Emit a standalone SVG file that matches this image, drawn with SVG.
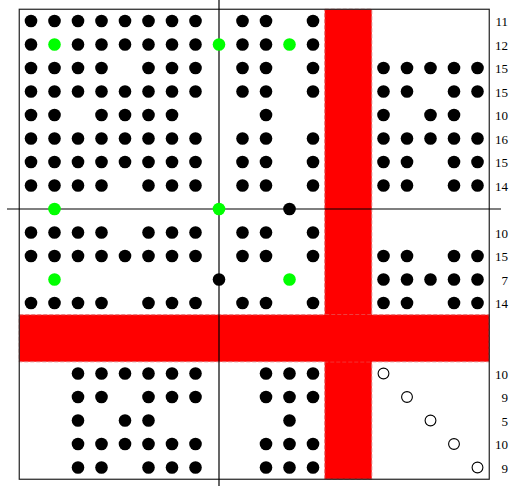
<svg xmlns="http://www.w3.org/2000/svg" xmlns:xlink="http://www.w3.org/1999/xlink" width="515" height="486" viewBox="0 0 515 486">
<style>
.band{fill:#ff0000;stroke:#e07070;stroke-width:1;stroke-dasharray:4 2}
.axis{stroke:#000;stroke-width:1.2;fill:none}
.frame{fill:none;stroke:#222;stroke-width:1.2}
.lbl{font-family:"Liberation Serif","Times New Roman",serif;font-size:13px;fill:#000;text-anchor:end}
</style>
<defs>
<circle id="b" r="6.3" fill="#000"/>
<circle id="g" r="6.3" fill="#00ff00"/>
<circle id="o" r="5.4" fill="#fff" stroke="#000" stroke-width="1.1"/>
</defs>
<rect width="515" height="486" fill="#fff"/>
<g id="bands">
<rect class="band" x="324.75" y="9.25" width="47" height="470"/>
<rect class="band" x="19.25" y="314.75" width="470" height="47"/>
<rect x="324.75" y="314.75" width="47" height="47" fill="#ff0000"/>
</g>
<rect id="frame" class="frame" x="19.25" y="9.25" width="470" height="470"/>
<g id="connectors">
<line class="axis" x1="219" y1="0" x2="219" y2="486"/>
<line class="axis" x1="7" y1="209" x2="501" y2="209"/>
</g>
<g id="row0">
<use href="#b" x="31" y="21"/><use href="#b" x="54.5" y="21"/><use href="#b" x="78" y="21"/><use href="#b" x="101.5" y="21"/><use href="#b" x="125" y="21"/><use href="#b" x="148.5" y="21"/><use href="#b" x="172" y="21"/><use href="#b" x="195.5" y="21"/><use href="#b" x="242.5" y="21"/><use href="#b" x="266" y="21"/><use href="#b" x="313" y="21"/>
</g>
<g id="row1">
<use href="#b" x="31" y="44.5"/><use href="#g" x="54.5" y="44.5"/><use href="#b" x="78" y="44.5"/><use href="#b" x="101.5" y="44.5"/><use href="#b" x="125" y="44.5"/><use href="#b" x="148.5" y="44.5"/><use href="#b" x="172" y="44.5"/><use href="#b" x="195.5" y="44.5"/><use href="#g" x="219" y="44.5"/><use href="#b" x="242.5" y="44.5"/><use href="#b" x="266" y="44.5"/><use href="#g" x="289.5" y="44.5"/><use href="#b" x="313" y="44.5"/>
</g>
<g id="row2">
<use href="#b" x="31" y="68"/><use href="#b" x="54.5" y="68"/><use href="#b" x="78" y="68"/><use href="#b" x="101.5" y="68"/><use href="#b" x="148.5" y="68"/><use href="#b" x="172" y="68"/><use href="#b" x="195.5" y="68"/><use href="#b" x="242.5" y="68"/><use href="#b" x="266" y="68"/><use href="#b" x="313" y="68"/><use href="#b" x="383.5" y="68"/><use href="#b" x="407" y="68"/><use href="#b" x="430.5" y="68"/><use href="#b" x="454" y="68"/><use href="#b" x="477.5" y="68"/>
</g>
<g id="row3">
<use href="#b" x="31" y="91.5"/><use href="#b" x="54.5" y="91.5"/><use href="#b" x="78" y="91.5"/><use href="#b" x="101.5" y="91.5"/><use href="#b" x="125" y="91.5"/><use href="#b" x="148.5" y="91.5"/><use href="#b" x="172" y="91.5"/><use href="#b" x="195.5" y="91.5"/><use href="#b" x="242.5" y="91.5"/><use href="#b" x="266" y="91.5"/><use href="#b" x="313" y="91.5"/><use href="#b" x="383.5" y="91.5"/><use href="#b" x="407" y="91.5"/><use href="#b" x="454" y="91.5"/><use href="#b" x="477.5" y="91.5"/>
</g>
<g id="row4">
<use href="#b" x="31" y="115"/><use href="#b" x="54.5" y="115"/><use href="#b" x="101.5" y="115"/><use href="#b" x="125" y="115"/><use href="#b" x="148.5" y="115"/><use href="#b" x="172" y="115"/><use href="#b" x="266" y="115"/><use href="#b" x="383.5" y="115"/><use href="#b" x="430.5" y="115"/><use href="#b" x="454" y="115"/>
</g>
<g id="row5">
<use href="#b" x="31" y="138.5"/><use href="#b" x="54.5" y="138.5"/><use href="#b" x="78" y="138.5"/><use href="#b" x="101.5" y="138.5"/><use href="#b" x="125" y="138.5"/><use href="#b" x="148.5" y="138.5"/><use href="#b" x="172" y="138.5"/><use href="#b" x="195.5" y="138.5"/><use href="#b" x="242.5" y="138.5"/><use href="#b" x="266" y="138.5"/><use href="#b" x="313" y="138.5"/><use href="#b" x="383.5" y="138.5"/><use href="#b" x="407" y="138.5"/><use href="#b" x="430.5" y="138.5"/><use href="#b" x="454" y="138.5"/><use href="#b" x="477.5" y="138.5"/>
</g>
<g id="row6">
<use href="#b" x="31" y="162"/><use href="#b" x="54.5" y="162"/><use href="#b" x="78" y="162"/><use href="#b" x="101.5" y="162"/><use href="#b" x="125" y="162"/><use href="#b" x="148.5" y="162"/><use href="#b" x="172" y="162"/><use href="#b" x="195.5" y="162"/><use href="#b" x="242.5" y="162"/><use href="#b" x="266" y="162"/><use href="#b" x="313" y="162"/><use href="#b" x="383.5" y="162"/><use href="#b" x="407" y="162"/><use href="#b" x="454" y="162"/><use href="#b" x="477.5" y="162"/>
</g>
<g id="row7">
<use href="#b" x="31" y="185.5"/><use href="#b" x="54.5" y="185.5"/><use href="#b" x="78" y="185.5"/><use href="#b" x="101.5" y="185.5"/><use href="#b" x="148.5" y="185.5"/><use href="#b" x="172" y="185.5"/><use href="#b" x="195.5" y="185.5"/><use href="#b" x="242.5" y="185.5"/><use href="#b" x="266" y="185.5"/><use href="#b" x="313" y="185.5"/><use href="#b" x="383.5" y="185.5"/><use href="#b" x="407" y="185.5"/><use href="#b" x="454" y="185.5"/><use href="#b" x="477.5" y="185.5"/>
</g>
<g id="row8">
<use href="#g" x="54.5" y="209"/><use href="#g" x="219" y="209"/><use href="#b" x="289.5" y="209"/>
</g>
<g id="row9">
<use href="#b" x="31" y="232.5"/><use href="#b" x="54.5" y="232.5"/><use href="#b" x="78" y="232.5"/><use href="#b" x="101.5" y="232.5"/><use href="#b" x="148.5" y="232.5"/><use href="#b" x="172" y="232.5"/><use href="#b" x="195.5" y="232.5"/><use href="#b" x="242.5" y="232.5"/><use href="#b" x="266" y="232.5"/><use href="#b" x="313" y="232.5"/>
</g>
<g id="row10">
<use href="#b" x="31" y="256"/><use href="#b" x="54.5" y="256"/><use href="#b" x="78" y="256"/><use href="#b" x="101.5" y="256"/><use href="#b" x="125" y="256"/><use href="#b" x="148.5" y="256"/><use href="#b" x="172" y="256"/><use href="#b" x="195.5" y="256"/><use href="#b" x="242.5" y="256"/><use href="#b" x="266" y="256"/><use href="#b" x="313" y="256"/><use href="#b" x="383.5" y="256"/><use href="#b" x="407" y="256"/><use href="#b" x="454" y="256"/><use href="#b" x="477.5" y="256"/>
</g>
<g id="row11">
<use href="#g" x="54.5" y="279.5"/><use href="#b" x="219" y="279.5"/><use href="#g" x="289.5" y="279.5"/><use href="#b" x="383.5" y="279.5"/><use href="#b" x="407" y="279.5"/><use href="#b" x="430.5" y="279.5"/><use href="#b" x="454" y="279.5"/><use href="#b" x="477.5" y="279.5"/>
</g>
<g id="row12">
<use href="#b" x="31" y="303"/><use href="#b" x="54.5" y="303"/><use href="#b" x="78" y="303"/><use href="#b" x="101.5" y="303"/><use href="#b" x="148.5" y="303"/><use href="#b" x="172" y="303"/><use href="#b" x="195.5" y="303"/><use href="#b" x="242.5" y="303"/><use href="#b" x="266" y="303"/><use href="#b" x="313" y="303"/><use href="#b" x="383.5" y="303"/><use href="#b" x="407" y="303"/><use href="#b" x="454" y="303"/><use href="#b" x="477.5" y="303"/>
</g>
<g id="row15">
<use href="#b" x="78" y="373.5"/><use href="#b" x="101.5" y="373.5"/><use href="#b" x="125" y="373.5"/><use href="#b" x="148.5" y="373.5"/><use href="#b" x="172" y="373.5"/><use href="#b" x="195.5" y="373.5"/><use href="#b" x="266" y="373.5"/><use href="#b" x="289.5" y="373.5"/><use href="#b" x="313" y="373.5"/><use href="#o" x="383.5" y="373.5"/>
</g>
<g id="row16">
<use href="#b" x="78" y="397"/><use href="#b" x="101.5" y="397"/><use href="#b" x="148.5" y="397"/><use href="#b" x="172" y="397"/><use href="#b" x="195.5" y="397"/><use href="#b" x="266" y="397"/><use href="#b" x="289.5" y="397"/><use href="#b" x="313" y="397"/><use href="#o" x="407" y="397"/>
</g>
<g id="row17">
<use href="#b" x="78" y="420.5"/><use href="#b" x="125" y="420.5"/><use href="#b" x="148.5" y="420.5"/><use href="#b" x="289.5" y="420.5"/><use href="#o" x="430.5" y="420.5"/>
</g>
<g id="row18">
<use href="#b" x="78" y="444"/><use href="#b" x="101.5" y="444"/><use href="#b" x="125" y="444"/><use href="#b" x="148.5" y="444"/><use href="#b" x="172" y="444"/><use href="#b" x="195.5" y="444"/><use href="#b" x="266" y="444"/><use href="#b" x="289.5" y="444"/><use href="#b" x="313" y="444"/><use href="#o" x="454" y="444"/>
</g>
<g id="row19">
<use href="#b" x="78" y="467.5"/><use href="#b" x="101.5" y="467.5"/><use href="#b" x="148.5" y="467.5"/><use href="#b" x="172" y="467.5"/><use href="#b" x="195.5" y="467.5"/><use href="#b" x="266" y="467.5"/><use href="#b" x="289.5" y="467.5"/><use href="#b" x="313" y="467.5"/><use href="#o" x="477.5" y="467.5"/>
</g>
<g id="labels">
<text class="lbl" x="508" y="26">11</text>
<text class="lbl" x="508" y="49.5">12</text>
<text class="lbl" x="508" y="73">15</text>
<text class="lbl" x="508" y="96.5">15</text>
<text class="lbl" x="508" y="120">10</text>
<text class="lbl" x="508" y="143.5">16</text>
<text class="lbl" x="508" y="167">15</text>
<text class="lbl" x="508" y="190.5">14</text>
<text class="lbl" x="508" y="237.5">10</text>
<text class="lbl" x="508" y="261">15</text>
<text class="lbl" x="508" y="284.5">7</text>
<text class="lbl" x="508" y="308">14</text>
<text class="lbl" x="508" y="378.5">10</text>
<text class="lbl" x="508" y="402">9</text>
<text class="lbl" x="508" y="425.5">5</text>
<text class="lbl" x="508" y="449">10</text>
<text class="lbl" x="508" y="472.5">9</text>
</g>
</svg>
